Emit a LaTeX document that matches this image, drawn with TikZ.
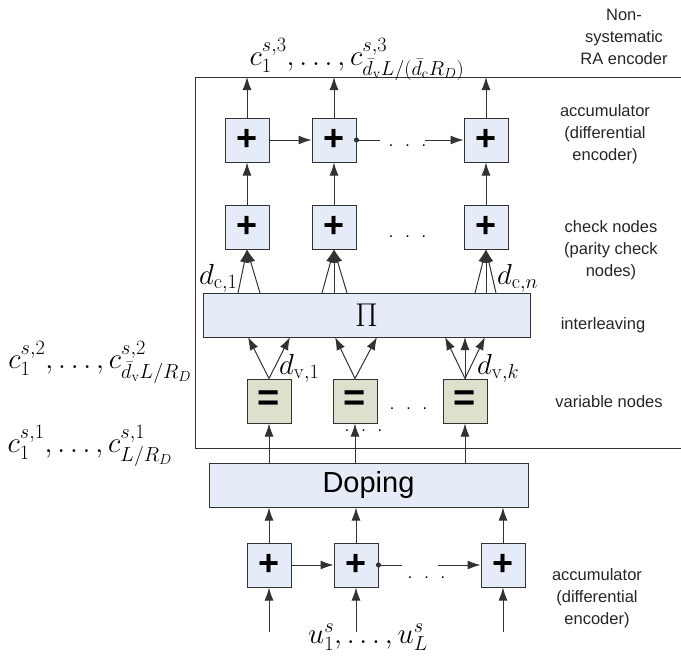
\RequirePackage{fix-cm}
\documentclass[tikz,border=0pt]{standalone}
\usepackage{amsmath}
\usepackage[no-math]{fontspec}
\newfontfamily\lab{Liberation Sans}
\usetikzlibrary{arrows.meta}
\definecolor{boxblue}{RGB}{230,236,247}
\definecolor{boxgreen}{RGB}{221,224,204}
\definecolor{lncol}{RGB}{50,50,50}
\begin{document}
\begin{tikzpicture}[x=1pt,y=-1pt,
  opbox/.style={draw=lncol, fill=boxblue, line width=1pt, minimum width=44pt, minimum height=44pt, inner sep=0pt, font=\lab\bfseries\fontsize{36}{36}\selectfont},
  varbox/.style={opbox, fill=boxgreen, font=\lab\bfseries\fontsize{38}{38}\selectfont},
  widebox/.style={draw=lncol, fill=boxblue, line width=1pt, minimum height=44pt, inner sep=0pt},
  arr/.style={draw=lncol, line width=1pt, -{Latex[length=13pt,width=9pt]}},
  plain/.style={draw=lncol, line width=1pt},
  desc/.style={font=\lab\fontsize{16.5}{22}\selectfont, align=center, text=black!85, inner sep=0pt},
  dotsn/.style={font=\lab\fontsize{16}{16}\selectfont, inner sep=0pt},
  mlab/.style={inner sep=0pt, font=\fontsize{29}{34}\selectfont}]
\useasboundingbox (0,0) rectangle (681,662);

% outer frame of the non-systematic RA encoder
\draw[plain] (681,77) -- (195,77) -- (195,448) -- (681,448);

% top accumulator
\node[opbox] (a1) at (247,140) {+};
\node[opbox] (a2) at (334,140) {+};
\node[opbox] (a3) at (486,140) {+};
% check nodes
\node[opbox] (k1) at (247,227) {+};
\node[opbox] (k2) at (334,227) {+};
\node[opbox] (k3) at (486,227) {+};
% interleaver
\node[widebox, minimum width=327pt] (pi) at (366.5,315) {\fontsize{33}{38}\selectfont$\Pi$};
% variable nodes
\node[varbox] (v1) at (269,401) {=};
\node[varbox] (v2) at (355,401) {=};
\node[varbox] (v3) at (465,401) {=};
% doping
\node[widebox, minimum width=319pt, font=\lab\fontsize{29}{32}\selectfont] (dop) at (368.5,485) {Doping};
% bottom accumulator
\node[opbox] (b1) at (269,565) {+};
\node[opbox] (b2) at (356,565) {+};
\node[opbox] (b3) at (503,565) {+};

% coordinates
\coordinate (o1) at (247,77);
\coordinate (o2) at (334,77);
\coordinate (o3) at (486,77);
\coordinate (i1) at (269,632);
\coordinate (i2) at (356,632);
\coordinate (i3) at (503,632);

% outputs of top accumulator
\foreach \n in {1,2,3} {\draw[arr] (a\n.north) -- (o\n);}
\foreach \n in {1,2,3} {\draw[arr] (k\n.north) -- (a\n.south);}
% accumulator chain (top)
\draw[arr] (a1.east) -- (a2.west);
\coordinate (ta) at (380,140);
\coordinate (tb) at (425,140);
\draw[plain] (a2.east) -- (ta);
\fill[lncol] (a2.east) circle (2.6pt);
\node[dotsn, anchor=base] (tdots) at (407.5,146) {.\hspace{12pt}.\hspace{12pt}.};
\draw[arr] (tb) -- (a3.west);

% interleaver to check nodes
\foreach \x in {238,260} {\draw[arr] (\x,293) -- (k1.south);}
\foreach \x in {322,334,347} {\draw[arr] (\x,293) -- (k2.south);}
\foreach \x in {475,486,496} {\draw[arr] (\x,293) -- (k3.south);}
\node[dotsn, anchor=base] (kdots) at (407.5,237) {.\hspace{12pt}.\hspace{12pt}.};

% variable nodes to interleaver
\foreach \x in {248,290} {\draw[arr] (v1.north) -- (\x,337);}
\foreach \x in {335,377} {\draw[arr] (v2.north) -- (\x,337);}
\foreach \x in {445,465,485} {\draw[arr] (v3.north) -- (\x,337);}
\node[dotsn, anchor=base] (vdots) at (408.5,409) {.\hspace{12pt}.\hspace{12pt}.};
\node[dotsn, anchor=base] (udots) at (363.5,431) {.\hspace{12pt}.\hspace{12pt}.};

% doping to variable nodes
\foreach \n in {1,2,3} {\draw[arr] (dop.north -| v\n) -- (v\n.south);}
% bottom accumulator to doping
\foreach \n in {1,2,3} {\draw[arr] (b\n.north) -- (dop.south -| b\n);}
\foreach \n in {1,2,3} {\draw[arr] (i\n) -- (b\n.south);}
\draw[arr] (b1.east) -- (b2.west);
\coordinate (ba) at (402,565);
\coordinate (bb) at (438,565);
\draw[plain] (b2.east) -- (ba);
\fill[lncol] (b2.east) circle (2.6pt);
\node[dotsn, anchor=base] (bdots) at (426.5,578) {.\hspace{12pt}.\hspace{12pt}.};
\draw[arr] (bb) -- (b3.west);

% math labels
\node[mlab, anchor=base] (ctop) at (357,65) {$c_1^{s,3},\ldots,c^{s,3}_{\bar d_{\mathrm{v}}L/(\bar d_{\mathrm{c}}R_D)}$};
\node[mlab, anchor=base] (cmid) at (100,368) {$c_1^{s,2},\ldots,c^{s,2}_{\bar d_{\mathrm{v}}L/R_D}$};
\node[mlab, anchor=base] (cbot) at (90,452) {$c_1^{s,1},\ldots,c^{s,1}_{L/R_D}$};
\node[mlab, anchor=base] (uin) at (368,643) {$u_1^s,\ldots,u_L^s$};
\node[mlab, anchor=base west] (dc1) at (199,284) {$d_{\mathrm{c},1}$};
\node[mlab, anchor=base west] (dcn) at (497,284) {$d_{\mathrm{c},n}$};
\node[mlab, anchor=base west] (dv1) at (279,374) {$d_{\mathrm{v},1}$};
\node[mlab, anchor=base west] (dvk) at (477,374) {$d_{\mathrm{v},k}$};

% descriptions
\node[desc] (tnon) at (624,37) {Non-\\systematic\\RA encoder};
\node[desc] (tacc) at (605,134) {accumulator\\(differential\\encoder)};
\node[desc] (tchk) at (611,250) {check nodes\\(parity check\\nodes)};
\node[desc] (tint) at (603,325) {interleaving};
\node[desc] (tvar) at (609,402) {variable nodes};
\node[desc] (tacc2) at (597,598) {accumulator\\(differential\\encoder)};
\end{tikzpicture}
\end{document}
